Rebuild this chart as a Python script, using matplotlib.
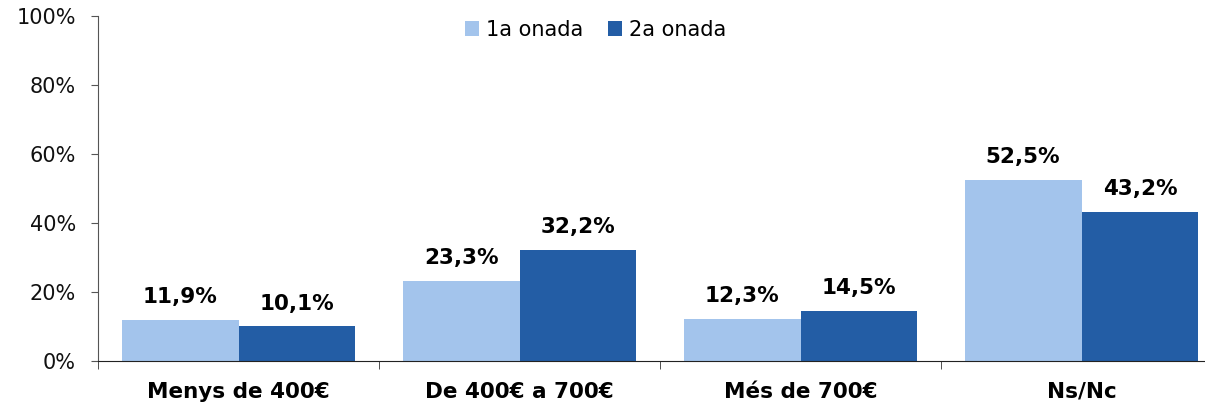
import matplotlib
matplotlib.use('Agg')
import matplotlib.pyplot as plt
import numpy as np

categories = ['Menys de 400€', 'De 400€ a 700€', 'Més de 700€', 'Ns/Nc']
series_names = ['1a onada', '2a onada']
onada1 = [11.9, 23.3, 12.3, 52.5]
onada2 = [10.1, 32.2, 14.5, 43.2]
colors = ['#A3C4EC', '#235DA5']

plt.rcParams['font.family'] = 'DejaVu Sans'

fig = plt.figure(figsize=(12.05, 4.04), dpi=100)
ax = fig.add_axes([98 / 1205, 43 / 404, 1 - 98 / 1205, 345 / 404])

x = np.arange(len(categories))
bw = 0.416
for vals, off, col, name in [(onada1, -bw / 2, colors[0], series_names[0]),
                             (onada2, bw / 2, colors[1], series_names[1])]:
    bars = ax.bar(x + off, vals, bw, color=col, label=name, zorder=2)
    for b, v in zip(bars, vals):
        ax.annotate(('%.1f%%' % v).replace('.', ','),
                    (b.get_x() + b.get_width() / 2, v),
                    xytext=(0, 9), textcoords='offset points',
                    ha='center', va='bottom', fontsize=15.5, fontweight='bold')

ax.set_xlim(-0.5, -0.5 + 1107 / 281)
ax.set_ylim(0, 100)
ax.set_yticks(range(0, 101, 20))
ax.set_yticklabels(['%d%%' % v for v in range(0, 101, 20)], fontsize=15, color='#111111')
ax.set_xticks(x)
ax.set_xticklabels(categories, fontsize=15.5, fontweight='bold')
ax.set_xticks(np.arange(-0.5, 3.5, 1.0), minor=True)
ax.tick_params(axis='x', which='major', length=0, pad=15)
ax.tick_params(axis='x', which='minor', length=6, direction='out', color='#333333')
ax.tick_params(axis='y', length=5, direction='out', color='#555555', pad=11)

for s in ['top', 'right']:
    ax.spines[s].set_visible(False)
ax.spines['left'].set_color('#555555')
ax.spines['bottom'].set_color('#222222')

fig.legend(loc='center', bbox_to_anchor=(0.494, 0.926), ncol=2, frameon=False,
           fontsize=15, handlelength=0.7, handleheight=0.7, handletextpad=0.3,
           columnspacing=1.2)

fig.savefig('out.png', dpi=100)
